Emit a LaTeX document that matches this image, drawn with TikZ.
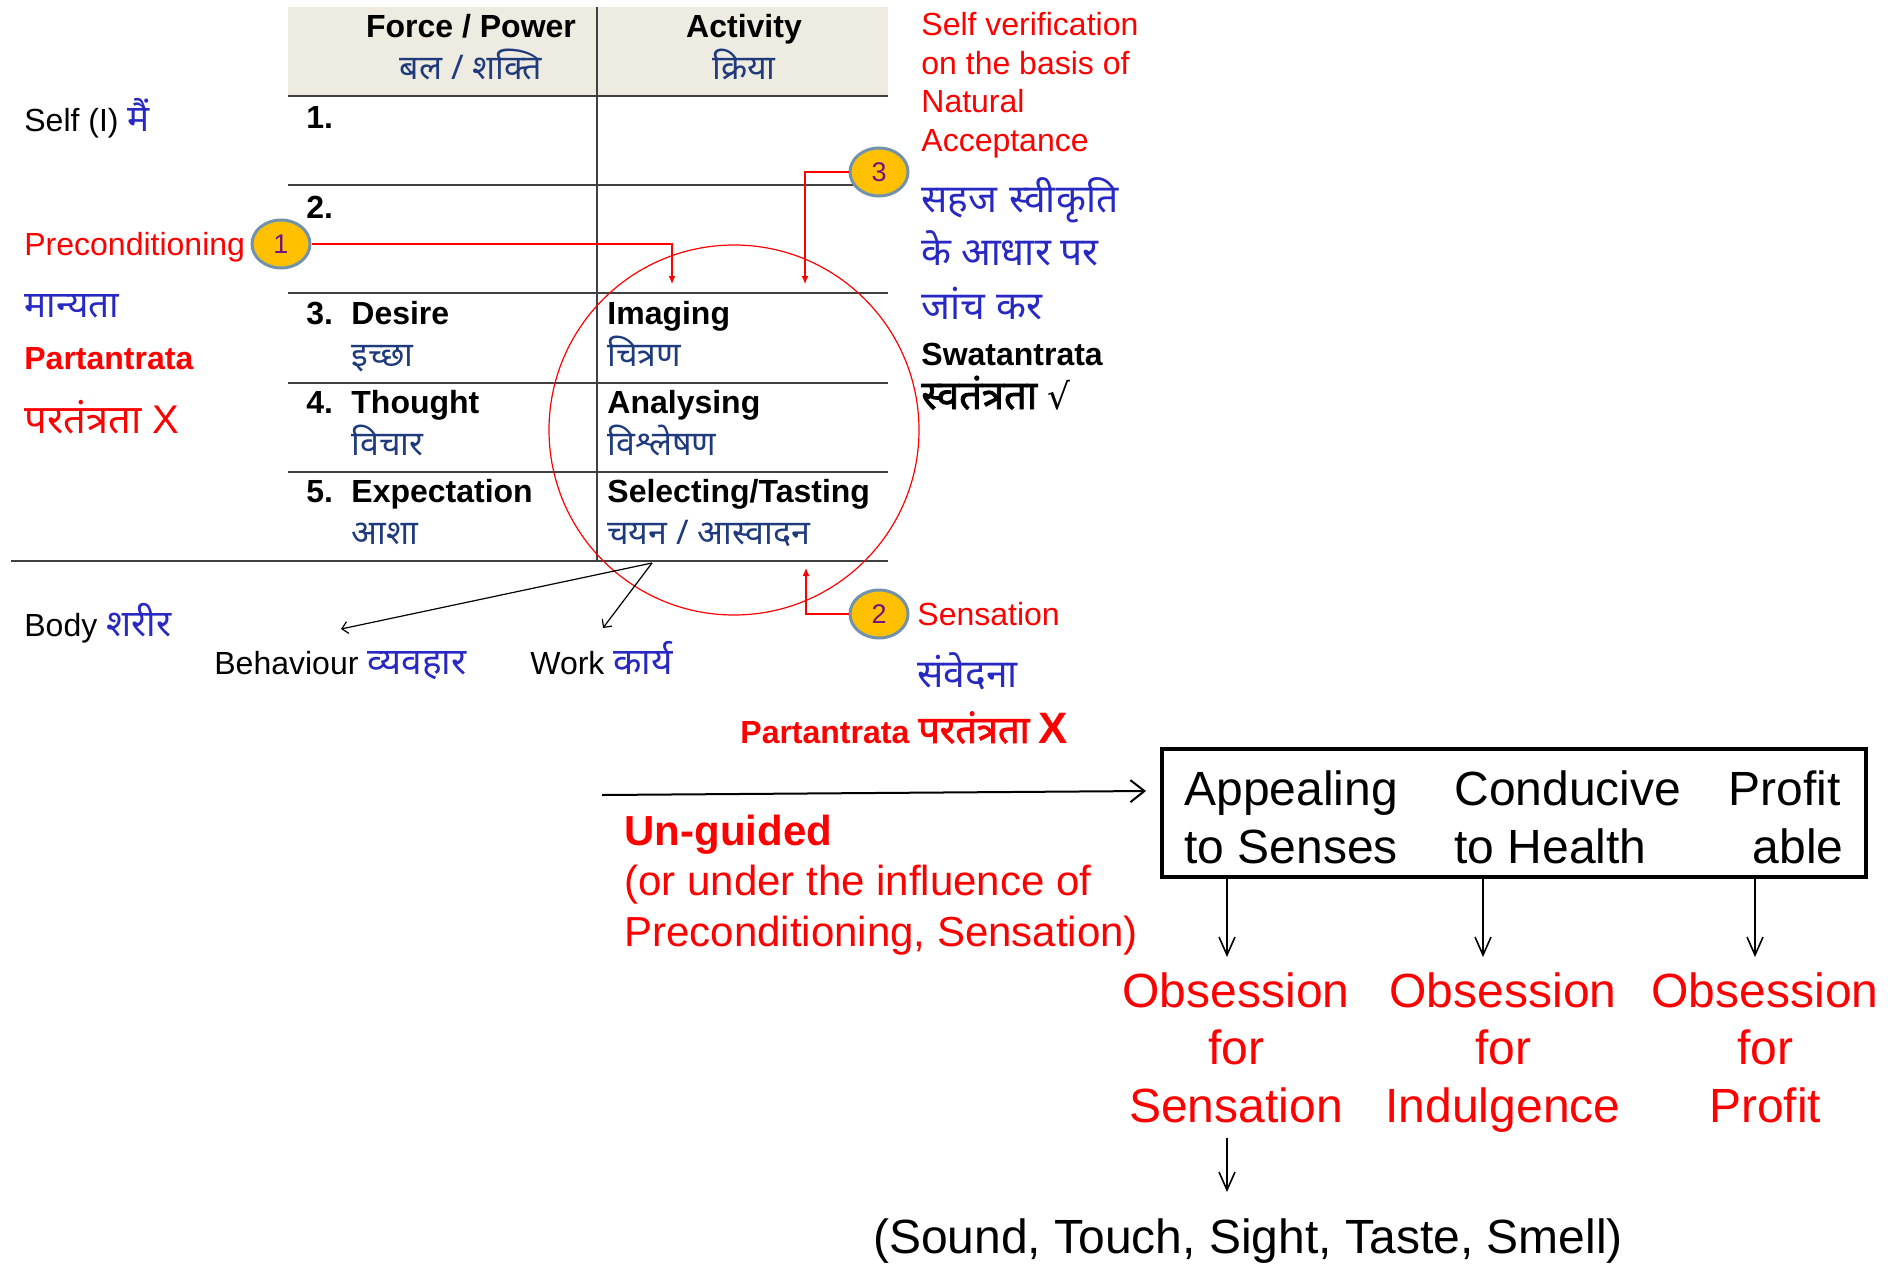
\documentclass[tikz,border=0pt]{standalone}
\usepackage{fontspec}
\setmainfont{Liberation Sans}
\newfontfamily\dev[Script=Devanagari]{Noto Sans}
\newfontfamily\devbold[Script=Devanagari,FakeBold=2]{Noto Sans}
\newfontfamily\symfont{DejaVu Sans}
\usetikzlibrary{arrows.meta,shapes.geometric}
\definecolor{hdr}{RGB}{238,236,225}
\definecolor{navy}{RGB}{31,58,125}
\definecolor{dblue}{RGB}{40,40,195}
\definecolor{myred}{RGB}{255,0,0}
\definecolor{gold}{RGB}{255,192,0}
\definecolor{rim}{RGB}{112,146,172}
\definecolor{purp}{RGB}{112,20,130}
\definecolor{gridc}{RGB}{64,64,64}
\newcommand{\hindiblue}[1]{\textcolor{dblue}{\dev\fontsize{18.5}{20}\selectfont #1}}
\begin{document}
\begin{tikzpicture}[x=0.5pt,y=-0.5pt,
  txt/.style={inner sep=0pt, anchor=base west, font=\fontsize{16}{19}\selectfont},
  btxt/.style={txt, font=\fontsize{16}{19}\selectfont\bfseries},
  navytxt/.style={txt, text=navy, font=\dev\fontsize{17}{19}\selectfont},
  bluetxt/.style={txt, text=dblue, font=\dev\fontsize{18.5}{20}\selectfont},
  bigblue/.style={txt, text=dblue, font=\dev\fontsize{19.5}{22}\selectfont},
  redtxt/.style={txt, text=myred},
  bigtxt/.style={txt, font=\fontsize{24}{29}\selectfont},
  obs/.style={inner sep=0pt, anchor=north, align=center, text=myred, font=\fontsize{24}{28.75}\selectfont},
  gridline/.style={draw=gridc, line width=1pt},
  badge/.style={ellipse, draw=rim, line width=1.5pt, fill=gold, minimum width=29pt, minimum height=24pt, inner sep=0pt, text=purp, font=\fontsize{13.5}{15}\selectfont},
  redarrow/.style={draw=myred, line width=0.6pt, -{Latex[length=4pt,width=3.5pt]}},
  thinarrow/.style={draw=black, line width=0.6pt, -{Straight Barb[length=3pt,width=6pt]}},
  bigarrow/.style={draw=black, line width=1pt, -{Straight Barb[length=7pt,width=11pt]}},
  downarrow/.style={draw=black, line width=0.8pt, -{Straight Barb[length=9pt,width=8pt]}},
  boxst/.style={draw=black, line width=2pt, minimum width=352pt, minimum height=64pt, inner sep=0pt}
]
\useasboundingbox (0,0) rectangle (1888,1263);

% ---------- table ----------
\fill[hdr] (288,7) rectangle (888,96);
\draw[gridline] (597,7) -- (597,561);
\draw[gridline, line width=1.3pt] (288,96) -- (888,96);
\foreach \yy in {185,293,383,472} \draw[gridline] (288,\yy) -- (888,\yy);
\draw[gridline] (11,561) -- (888,561);

\node[btxt, anchor=base] (hforce) at (471,38) {Force / Power};
\node[navytxt, anchor=base] (hbal) at (471,80) {बल / शक्ति};
\node[btxt, anchor=base] (hact) at (744,38) {Activity};
\node[navytxt, anchor=base] (hkriya) at (744,80) {क्रिया};

\node[btxt] (n1) at (306,128) {1.};
\node[btxt] (n2) at (306,218) {2.};
\node[btxt] (n3) at (306,324.5) {3.};
\node[btxt] (desire) at (351,324.5) {Desire};
\node[navytxt] (ichha) at (351,366) {इच्छा};
\node[btxt] (imaging) at (607,324.5) {Imaging};
\node[navytxt] (chitran) at (607,366) {चित्रण};
\node[btxt] (n4) at (306,413.5) {4.};
\node[btxt] (thought) at (351,413.5) {Thought};
\node[navytxt] (vichar) at (351,455) {विचार};
\node[btxt] (analys) at (607,413.5) {Analysing};
\node[navytxt] (vishl) at (607,455) {विश्लेषण};
\node[btxt] (n5) at (306,502.5) {5.};
\node[btxt] (expect) at (351,502.5) {Expectation};
\node[navytxt] (asha) at (351,544) {आशा};
\node[btxt] (select) at (607,502.5) {Selecting/Tasting};
\node[navytxt] (chayan) at (607,544) {चयन / आस्वादन};

% ---------- left texts ----------
\node[txt] (self) at (24,132) {Self (I) \hindiblue{मैं}};
\node[redtxt] (precond) at (24,255) {Preconditioning};
\node[bluetxt] (manyata) at (24,317) {मान्यता};
\node[btxt, text=myred] (part1) at (24,369) {Partantrata};
\node[txt, text=myred, font=\fontsize{20}{22}\selectfont] (part1h) at (24,433) {{\dev परतंत्रता} X};
\node[txt] (body) at (24,636) {Body \hindiblue{शरीर}};
\node[txt] (behav) at (214,674.5) {Behaviour \hindiblue{व्यवहार}};
\node[txt] (work) at (530,674.5) {Work \hindiblue{कार्य}};

% ---------- right texts ----------
\node[inner sep=0pt, anchor=north west, align=left, text=myred, font=\fontsize{16}{19.25}\selectfont] (selfver) at (921,12) {Self verification\\on the basis of\\Natural\\Acceptance};
\node[bigblue] (sahaj) at (921,212) {सहज\hspace{0.3em}स्वीकृति};
\node[bigblue] (aadhar) at (921,265.5) {के\hspace{0.25em}आधार\hspace{0.25em}पर};
\node[bigblue] (jaanch) at (921,319.5) {जांच\hspace{0.3em}कर};
\node[btxt] (swat) at (921,365.5) {Swatantrata};
\node[txt, font=\devbold\fontsize{20}{22}\selectfont] (swath) at (921,409) {स्वतंत्रता {\symfont\fontsize{18}{20}\selectfont √}};
\node[redtxt] (sens) at (917,625.5) {Sensation};
\node[bluetxt, font=\dev\fontsize{19.5}{22}\selectfont] (samv) at (917,687) {संवेदना};
\node[btxt, text=myred] (part2) at (740,743) {Partantrata {\devbold\fontsize{19}{21}\selectfont परतंत्रता} {\fontsize{22}{24}\selectfont X}};

% ---------- red ring and badges ----------
\node[draw=myred, line width=0.6pt, circle, minimum size=185pt, inner sep=0pt] (ring) at (734,430) {};
\node[badge] (c1) at (281,244) {1};
\node[badge] (c3) at (879,172) {3};
\node[badge] (c2) at (879,614) {2};
\coordinate (t1) at (672,284);
\coordinate (t3) at (805,284);
\coordinate (t2) at (806,568);
\draw[redarrow] (c1.east) -| (t1);
\draw[redarrow] (c3.west) -| (t3);
\draw[redarrow] (c2.west) -| (t2);

% ---------- body arrows ----------
\coordinate (src) at (652,563);
\coordinate (behend) at (341,629);
\coordinate (wrkend) at (603,628);
\draw[thinarrow] (src) -- (behend);
\draw[thinarrow] (src) -- (wrkend);

% ---------- lower part ----------
\node[boxst] (box) at (1514,813) {};
\coordinate (ustart) at (602,795);
\coordinate (uend) at (1146,791);
\draw[bigarrow] (ustart) -- (uend);

\node[txt, text=myred, font=\fontsize{21}{25}\selectfont\bfseries] (unguided) at (624,845) {Un-guided};
\node[inner sep=0pt, anchor=north west, align=left, text=myred, font=\fontsize{21}{25.5}\selectfont] (influence) at (624,865) {(or under the influence of\\Preconditioning, Sensation)};

\node[bigtxt] (app1) at (1184,805) {Appealing};
\node[bigtxt] (app2) at (1184,863) {to Senses};
\node[bigtxt] (con1) at (1454,805) {Conducive};
\node[bigtxt] (con2) at (1454,863) {to Health};
\node[bigtxt] (pro1) at (1728,805) {Profit};
\node[bigtxt, anchor=base east] (pro2) at (1844,863) {able};

\coordinate (a1) at (1227,957);
\coordinate (a2) at (1483,957);
\coordinate (a3) at (1755,957);
\draw[downarrow] (a1 |- box.south) -- (a1);
\draw[downarrow] (a2 |- box.south) -- (a2);
\draw[downarrow] (a3 |- box.south) -- (a3);

\node[obs] (ob1) at (1236,972) {Obsession\\for\\Sensation};
\node[obs] (ob2) at (1503,972) {Obsession\\for\\Indulgence};
\node[obs] (ob3) at (1765,972) {Obsession\\for\\Profit};

\coordinate (s1) at (1227,1138);
\coordinate (s2) at (1227,1192);
\draw[downarrow] (s1) -- (s2);
\node[bigtxt, anchor=base] (senses) at (1248,1253) {(Sound, Touch, Sight, Taste, Smell)};
\end{tikzpicture}
\end{document}
